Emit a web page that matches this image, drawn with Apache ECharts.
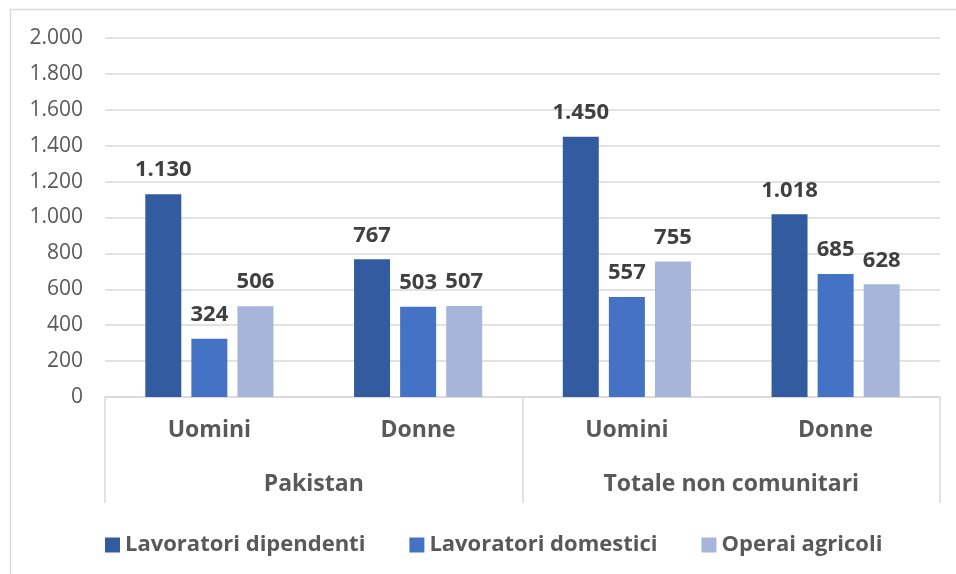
<!DOCTYPE html>
<html>
<head>
<meta charset="utf-8">
<script src="https://cdn.jsdelivr.net/npm/echarts@6/dist/echarts.min.js"></script>
<style>html,body{margin:0;padding:0;background:#fff}#c{width:956px;height:574px}</style>
</head>
<body>
<div id="c"></div>
<script>
const subCategories = ['Uomini', 'Donne', 'Uomini', 'Donne'];
const groups = ['Pakistan', 'Totale non comunitari'];
const seriesNames = ['Lavoratori dipendenti', 'Lavoratori domestici', 'Operai agricoli'];
const dipendenti = [1130, 767, 1450, 1018];
const domestici = [324, 503, 557, 685];
const agricoli = [506, 507, 755, 628];
const colors = ['#335B9F', '#4472C4', '#A7B5DA'];

const fmt = v => String(v).replace(/\B(?=(\d{3})+(?!\d))/g, '.');
const FONT = 'Open Sans';

const chart = echarts.init(document.getElementById('c'));
const mk = (name, data, i) => ({
  name, type: 'bar', data, barWidth: 36, barGap: '28%',
  itemStyle: { color: colors[i] },
  label: { show: true, position: 'top', distance: 13, formatter: p => fmt(p.value),
    fontFamily: FONT, fontWeight: 'bold', fontSize: 22, color: '#404040' }
});
chart.setOption({
  animation: false,
  color: colors,
  grid: { left: 105, right: 16, top: 38, bottom: 177 },
  graphic: [
    { type: 'line', shape: { x1: 10, y1: 9.5, x2: 956, y2: 9.5 }, style: { stroke: '#D9D9D9', lineWidth: 1.5 } },
    { type: 'line', shape: { x1: 10.5, y1: 9, x2: 10.5, y2: 574 }, style: { stroke: '#D9D9D9', lineWidth: 1.5 } }
  ],
  legend: {
    data: seriesNames, left: 100, top: 529, itemWidth: 15, itemHeight: 15, itemGap: 44,
    icon: 'rect',
    textStyle: { fontFamily: FONT, fontSize: 22, fontWeight: 'bold', color: '#595959' }
  },
  xAxis: [
    { type: 'category', data: subCategories, position: 'bottom',
      axisLine: { show: true, lineStyle: { color: '#D9D9D9', width: 1.5 } },
      axisTick: { show: false },
      axisLabel: { margin: 22, fontFamily: FONT, fontSize: 23, fontWeight: 'bold', color: '#595959' } },
    { type: 'category', data: groups, position: 'bottom', offset: 0,
      axisLine: { show: false },
      axisTick: { show: true, length: 106, lineStyle: { color: '#D9D9D9', width: 1.5 } },
      axisLabel: { margin: 76, fontFamily: FONT, fontSize: 23, fontWeight: 'bold', color: '#595959' } }
  ],
  yAxis: {
    type: 'value', min: 0, max: 2000, interval: 200,
    axisLine: { show: false }, axisTick: { show: false },
    splitLine: { lineStyle: { color: '#D9D9D9', width: 1.5 } },
    axisLabel: { margin: 22, formatter: v => fmt(v), fontFamily: FONT, fontSize: 21, color: '#595959' }
  },
  series: [mk(seriesNames[0], dipendenti, 0), mk(seriesNames[1], domestici, 1), mk(seriesNames[2], agricoli, 2)]
});
</script>
</body>
</html>
